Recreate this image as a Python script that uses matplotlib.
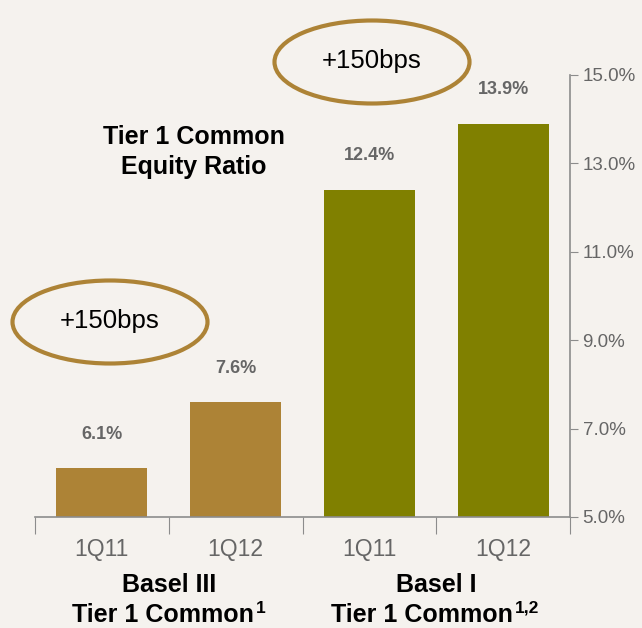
import matplotlib.pyplot as plt
from matplotlib.patches import Ellipse

categories = ["1Q11", "1Q12", "1Q11", "1Q12"]
values = [6.1, 7.6, 12.4, 13.9]
bar_colors = ["#AD8336", "#AD8336", "#808000", "#808000"]
yticks = [5.0, 7.0, 9.0, 11.0, 13.0, 15.0]
groups = ["Basel III", "Basel I"]
group_sub = ["Tier 1 Common", "Tier 1 Common"]
group_sup = ["1", "1,2"]
bubble_text = "+150bps"

bg = "#F5F2EE"
gold = "#AD8336"
grey = "#666666"
font = "Liberation Sans"

fig = plt.figure(figsize=(6.42, 6.28), dpi=100, facecolor=bg)
ax = fig.add_axes([0.0545, 0.1768, 0.8335, 0.7038], facecolor=bg)

x = range(len(values))
ax.bar(x, [v - 5.0 for v in values], bottom=5.0, width=0.68, color=bar_colors)

for i, v in enumerate(values):
    ax.text(i, v + 0.77, f"{v:.1f}%", ha="center", va="center", fontsize=13,
            fontweight="bold", color=grey, family=font)

ax.set_xlim(-0.5, 3.5)
ax.set_ylim(5.0, 15.0)
ax.yaxis.tick_right()
ax.set_yticks(yticks)
ax.set_yticklabels([f"{t:.1f}%" for t in yticks], family=font, fontsize=13.5, color=grey)
ax.tick_params(axis="y", length=6, color="#8C8C8C", pad=3)

ax.set_xticks([-0.5, 0.5, 1.5, 2.5, 3.5])
ax.set_xticklabels([])
ax.tick_params(axis="x", which="major", length=12, color="#8C8C8C", direction="out")
ax.set_xticks(list(x), minor=True)
ax.set_xticklabels(categories, minor=True, family=font, fontsize=16.5, color=grey)
ax.tick_params(axis="x", which="minor", length=0, pad=15)

for s in ["top", "left"]:
    ax.spines[s].set_visible(False)
for s in ["bottom", "right"]:
    ax.spines[s].set_color("#8C8C8C")
    ax.spines[s].set_linewidth(1.2)

# group labels below the axis
for gx, name, sub, sup in zip([0.5, 2.5], groups, group_sub, group_sup):
    xf = ax.transData.transform((gx, 5.0))[0] / 642
    fig.text(xf, 1 - 585 / 628, name, ha="center", va="center", fontsize=18,
             fontweight="bold", family=font, color="black")
    t = fig.text(xf - (2 + 4 * len(sup)) / 642, 1 - 615 / 628, sub, ha="center", va="center",
                 fontsize=18, fontweight="bold", family=font, color="black")
    ax.annotate(sup, xy=(1, 0.78), xycoords=t, xytext=(1.5, 0), textcoords="offset points",
                ha="left", va="center", fontsize=12.5, fontweight="bold",
                family=font, color="black", annotation_clip=False)

fig.text(194 / 642, 1 - 152 / 628, "Tier 1 Common\nEquity Ratio", ha="center", va="center",
         fontsize=18, fontweight="bold", family=font, color="black",
         linespacing=1.3)

for cx, cy in [(110, 322), (372, 62)]:
    e = Ellipse((cx / 642, 1 - cy / 628), 195 / 642, 83 / 628, transform=fig.transFigure,
                facecolor="none", edgecolor=gold, linewidth=3)
    fig.add_artist(e)
    fig.text(cx / 642, 1 - (cy - 1) / 628, bubble_text, ha="center", va="center",
             fontsize=18.5, family=font, color="black")

fig.savefig("out.png", dpi=100, facecolor=bg)
